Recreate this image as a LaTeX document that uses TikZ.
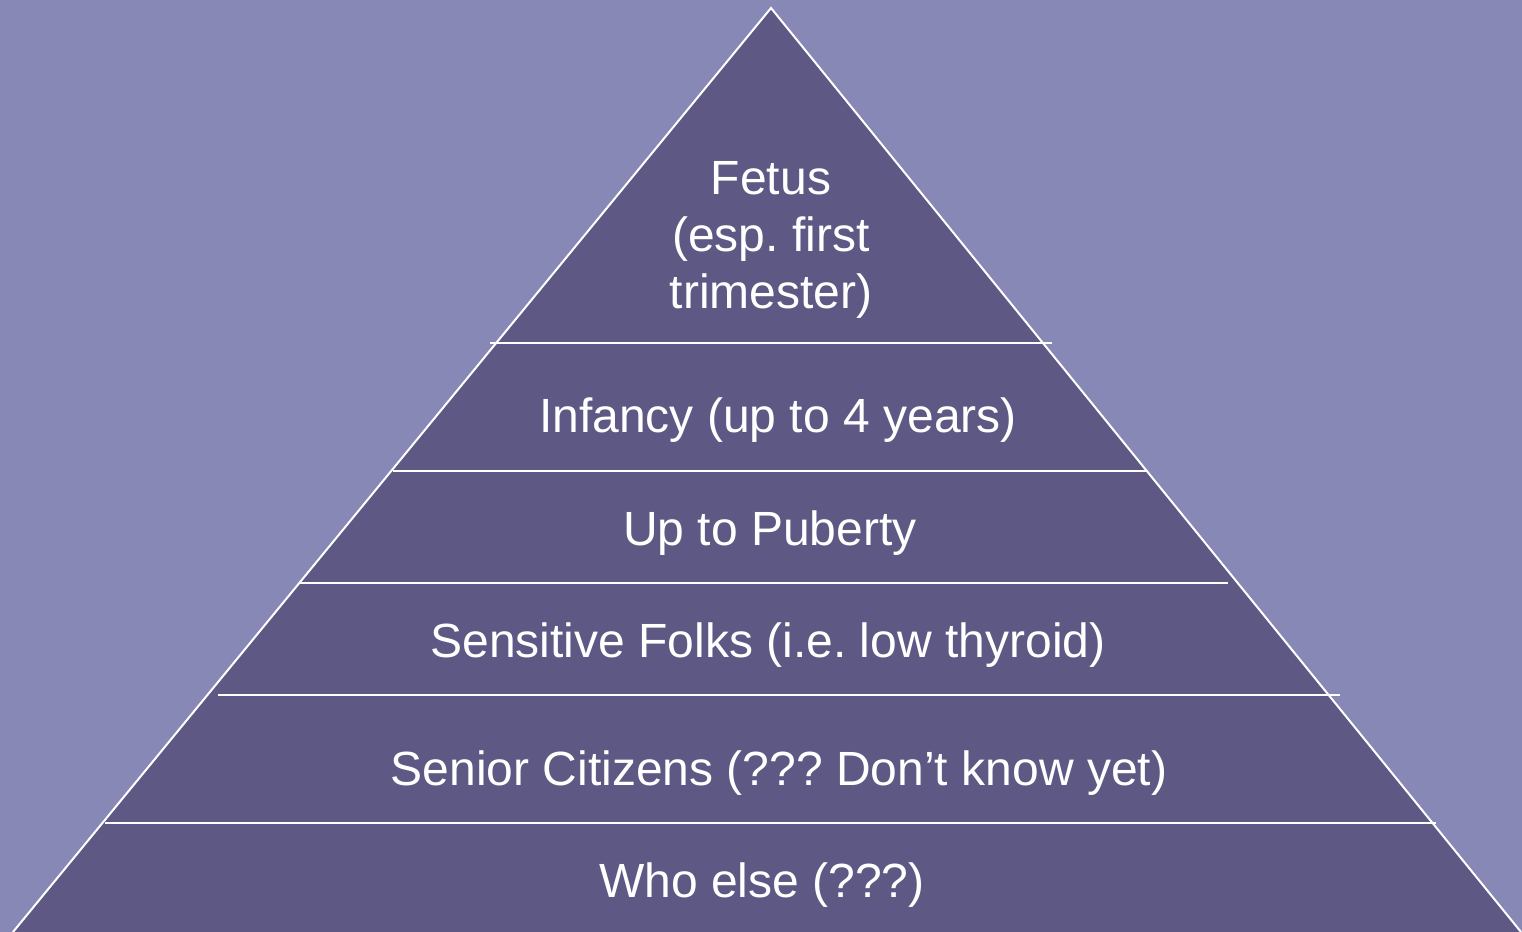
\documentclass[tikz,border=0pt]{standalone}
\usepackage{fontspec}
\setmainfont{Liberation Sans}
\usepackage{xcolor}
\usepackage{tikz}
\definecolor{slidebg}{RGB}{136,136,182}
\definecolor{pyrfill}{RGB}{94,88,133}
\frenchspacing
\tikzset{
  rule/.style={white,line width=1pt},
  lbl/.style={text=white,inner sep=0pt,font=\fontsize{24}{28.5}\selectfont,align=center}
}
\begin{document}
\begin{tikzpicture}[x=0.5pt,y=-0.5pt]
\fill[slidebg] (0,0) rectangle (1522,932);
\useasboundingbox (0,0) rectangle (1522,932);
\coordinate(P1) at (771,8);
\coordinate(P2) at (13,932);
\coordinate(P3) at (1521,932);
\fill[pyrfill] (P1) -- (P2) -- (P3) -- cycle;
\draw[rule] (P2) -- (P1) -- (P3);

\coordinate(L1) at (490,343);  \coordinate(R1) at (1052,343);
\coordinate(L2) at (393,471);  \coordinate(R2) at (1148,471);
\coordinate(L3) at (300,583);  \coordinate(R3) at (1228,583);
\coordinate(L4) at (218,695);  \coordinate(R4) at (1340,695);
\coordinate(L5) at (105,823);  \coordinate(R5) at (1436,823);

\draw[rule] (L1) to (R1);
\draw[rule] (L2) to (R2);
\draw[rule] (L3) to (R3);
\draw[rule] (L4) to (R4);
\draw[rule] (L5) to (R5);

\node(T1) [lbl] at (771,240) {Fetus\\(esp. first\\trimester)};
\node(T2) [lbl,anchor=base] at (778,432) {Infancy (up to 4 years)};
\node(T3) [lbl,anchor=base] at (770,545) {Up to Puberty};
\node(T4) [lbl,anchor=base] at (768,657) {Sensitive Folks (i.e. low thyroid)};
\node(T5) [lbl,anchor=base] at (779,785) {Senior Citizens (??? Don’t know yet)};
\node(T6) [lbl,anchor=base] at (762,897) {Who else (???)};
\end{tikzpicture}
\end{document}
